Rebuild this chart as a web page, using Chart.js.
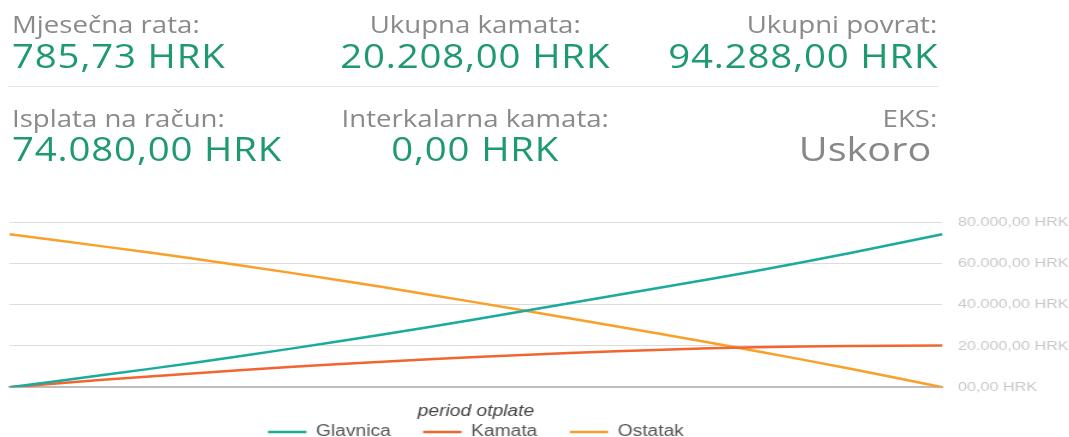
<!DOCTYPE html>
<html>
<head>
<meta charset="utf-8">
<script src="https://cdn.jsdelivr.net/npm/chart.js@4.4.1/dist/chart.umd.min.js"></script>
<style>
  html, body { margin: 0; padding: 0; background: #fff; overflow: hidden; }
  #page {
    position: relative;
    width: 891px;
    height: 437px;
    transform: scaleX(1.2);
    transform-origin: 0 0;
    font-family: "Open Sans", sans-serif;
  }
  .lbl, .val { position: absolute; line-height: 1; white-space: nowrap; }
  .lbl { font-size: 23px; color: #8a8a8a; }
  .val { font-size: 32px; color: #1e9a6e; letter-spacing: 0.7px; }
  .val.muted { color: #888; letter-spacing: 0; font-size: 33px; }
  .left { text-align: left; }
  .mid { text-align: center; width: 400px; }
  .right { text-align: right; width: 300px; }
  #sep { position: absolute; left: 7px; top: 86px; width: 775px; height: 1px; background: #e6e6e6; }
  #chartBox { position: absolute; left: 0; top: 195px; width: 891px; height: 242px; }
</style>
</head>
<body>
<div id="page">
  <div class="lbl left" style="left:10px; top:13px;">Mjesečna rata:</div>
  <div class="val left" style="left:10px; top:40px;">785,73 HRK</div>
  <div class="lbl mid" style="left:196px; top:13px;">Ukupna kamata:</div>
  <div class="val mid" style="left:196px; top:40px;">20.208,00 HRK</div>
  <div class="lbl right" style="left:481px; top:13px;">Ukupni povrat:</div>
  <div class="val right" style="left:482px; top:40px;">94.288,00 HRK</div>

  <div id="sep"></div>

  <div class="lbl left" style="left:10px; top:107px;">Isplata na račun:</div>
  <div class="val left" style="left:10px; top:133px;">74.080,00 HRK</div>
  <div class="lbl mid" style="left:196px; top:107px;">Interkalarna kamata:</div>
  <div class="val mid" style="left:196px; top:133px;">0,00 HRK</div>
  <div class="lbl right" style="left:481px; top:107px;">EKS:</div>
  <div class="val right muted" style="left:476px; top:132px;">Uskoro</div>

  <div id="chartBox"><canvas id="loanChart" width="891" height="242"></canvas></div>
</div>

<script>
// godine otplate (period otplate)
const periods = ["0", "1", "2", "3", "4", "5", "6", "7", "8", "9", "10"];

// vrijednosti očitane s grafa (HRK)
const glavnica = [0, 5900, 12000, 18600, 25600, 32900, 40700, 48400, 56300, 64900, 74080];
const kamata = [0, 3600, 6800, 9800, 12400, 14700, 16600, 18200, 19400, 20000, 20208];
const ostatak = [74080, 68200, 62100, 55500, 48500, 41100, 33400, 25700, 17600, 9100, 0];

const yTicks = [0, 20000, 40000, 60000, 80000];

/** Format HRK like the site does */
function formatHrk(value) {
  if (value === 0) return "00,00 HRK";
  const whole = Math.round(value)
    .toString()
    .replace(/\B(?=(\d{3})+(?!\d))/g, ".");
  return `${whole},00 HRK`;
}

const ctx = document.getElementById("loanChart").getContext("2d");

window.loanChartInstance = new Chart(ctx, {
  type: "line",
  data: {
    labels: periods,
    datasets: [
      {
        label: "Glavnica",
        data: glavnica,
        borderColor: "#1aab9b",
        backgroundColor: "#1aab9b",
        borderWidth: 2.5,
        pointRadius: 0,
        tension: 0.3,
        fill: false,
      },
      {
        label: "Kamata",
        data: kamata,
        borderColor: "#f2652f",
        backgroundColor: "#f2652f",
        borderWidth: 2.5,
        pointRadius: 0,
        tension: 0.3,
        fill: false,
      },
      {
        label: "Ostatak",
        data: ostatak,
        borderColor: "#f8a02a",
        backgroundColor: "#f8a02a",
        borderWidth: 2.5,
        pointRadius: 0,
        tension: 0.3,
        fill: false,
      },
    ],
  },
  options: {
    responsive: false,
    animation: false,
    layout: {
      padding: { left: 8, right: -12.5, top: 27, bottom: -4 },
    },
    scales: {
      x: {
        grid: { display: false },
        border: { display: true, color: "#bdbdbd", width: 2 },
        ticks: { display: false },
        title: {
          display: true,
          text: "period otplate",
          color: "#444",
          font: { family: "Arial", size: 16, style: "italic" },
          // negative bottom pushes the title down next to the legend
          padding: { top: 6.7, bottom: -24.2 },
        },
      },
      y: {
        position: "right",
        min: 0,
        max: 80000,
        afterBuildTicks: (axis) => {
          axis.ticks = yTicks.map((v) => ({ value: v }));
        },
        grid: { color: "#dcdcdc", drawTicks: false },
        border: { display: false },
        ticks: {
          padding: 13,
          color: "#c8c8c8",
          font: { family: "Arial", size: 13.5 },
          callback: (value) => formatHrk(value),
        },
      },
    },
    plugins: {
      legend: {
        position: "bottom",
        fullSize: false,
        maxHeight: 44,
        labels: {
          usePointStyle: true,
          pointStyle: "line",
          pointStyleWidth: 32,
          color: "#555",
          padding: 27,
          font: { family: "Arial", size: 16 },
        },
      },
      tooltip: { enabled: false },
    },
  },
});
</script>
</body>
</html>
